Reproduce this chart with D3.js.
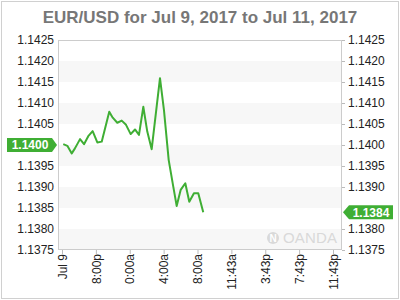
<!DOCTYPE html>
<html>
<head>
<meta charset="utf-8">
<script src="https://cdn.jsdelivr.net/npm/d3@7"></script>
<style>
  body { margin: 0; background: #fff; }
  svg { display: block; font-family: "Liberation Sans", Arial, sans-serif; }
</style>
</head>
<body>
<svg id="chart" width="400" height="300"></svg>
<script>
// hours after the "Jul 9" tick, and EUR/USD rate
const hours = [0.15, 0.63, 1.15, 1.53, 2.13, 2.6, 3.1, 3.62, 4.17, 4.69, 5.58, 5.99,
  6.53, 7.05, 7.56, 8.11, 8.62, 9.09, 9.6, 10.07, 10.59, 11.57, 12.04, 12.6,
  13.14, 13.54, 14.01, 14.56, 15.03, 15.58, 16.09, 16.68];
const rates = [1.14002, 1.13998, 1.1398, 1.13992, 1.14014, 1.14002, 1.14021, 1.14033,
  1.14006, 1.14008, 1.14079, 1.14065, 1.14053, 1.14058, 1.14048, 1.14026,
  1.14037, 1.14024, 1.14091, 1.14032, 1.1399, 1.14159, 1.14083, 1.13964,
  1.13901, 1.13855, 1.13893, 1.13909, 1.13865, 1.13885, 1.13885, 1.1384];
const xTicks = [0, 4, 8, 12, 16, 20, 24, 28, 32];
const xTickLabels = ['Jul 9', '8:00p', '0:00a', '4:00a', '8:00a', '11:43a', '3:43p', '7:43p', '11:43p'];
const yTicks = [1.1375, 1.138, 1.1385, 1.139, 1.1395, 1.14, 1.1405, 1.141, 1.1415, 1.142, 1.1425];
const openRate = 1.14;
const lastRate = 1.1384;

const green = '#3fae34';
const plotLeft = 58;
const plotRight = 342;
const plotTop = 40;
const plotBottom = 250;

const svg = d3.select('#chart');

svg.append('rect')
  .attr('x', 1.5).attr('y', 1.5)
  .attr('width', 397).attr('height', 297)
  .attr('fill', 'none')
  .attr('stroke', '#d0d0d0');

svg.append('text')
  .attr('x', 200).attr('y', 23)
  .attr('text-anchor', 'middle')
  .attr('font-size', 17)
  .attr('font-weight', 'bold')
  .attr('fill', '#777')
  .text('EUR/USD for Jul 9, 2017 to Jul 11, 2017');

const x = d3.scaleLinear().domain([0, 32]).range([62, 333]);
const y = d3.scaleLinear().domain([1.1375, 1.1425]).range([plotBottom, plotTop]);

// alternating bands
const bands = yTicks.slice(0, -1).filter((d, i) => i % 2 === 0);
svg.append('g')
  .selectAll('rect')
  .data(bands)
  .enter()
  .append('rect')
  .attr('x', plotLeft)
  .attr('width', plotRight - plotLeft)
  .attr('y', d => y(d + 0.0005))
  .attr('height', d => y(d) - y(d + 0.0005))
  .attr('fill', '#f7f7f7');

// watermark
const wm = svg.append('g').attr('fill', '#d9d9d9');
wm.append('circle').attr('cx', 273).attr('cy', 238).attr('r', 6);
wm.append('text')
  .attr('x', 273).attr('y', 242)
  .attr('text-anchor', 'middle')
  .attr('font-size', 10)
  .attr('font-weight', 'bold')
  .attr('fill', '#fff')
  .text('N');
wm.append('text')
  .attr('x', 283).attr('y', 243)
  .attr('font-size', 15)
  .attr('textLength', 54)
  .text('OANDA');

// frame
svg.append('rect')
  .attr('x', plotLeft + 0.5).attr('y', plotTop + 0.5)
  .attr('width', plotRight - plotLeft - 1).attr('height', plotBottom - plotTop - 1)
  .attr('fill', 'none')
  .attr('stroke', '#ccc');

const fmt = d3.format('.4f');

function styleAxis(g) {
  g.select('.domain').remove();
  g.selectAll('.tick line').attr('stroke', '#bbb');
  g.selectAll('.tick text')
    .attr('fill', '#222')
    .attr('font-size', 12)
    .attr('font-family', '"Liberation Sans", Arial, sans-serif');
}

// the price flags take the place of the tick they sit on
svg.append('g')
  .attr('transform', `translate(${plotLeft},0)`)
  .call(d3.axisLeft(y).tickValues(yTicks.filter(d => d !== 1.14))
    .tickFormat(fmt).tickSize(0).tickPadding(4))
  .call(styleAxis);

svg.append('g')
  .attr('transform', `translate(${plotRight},0)`)
  .call(d3.axisRight(y).tickValues(yTicks.filter(d => d !== 1.1385))
    .tickFormat(fmt).tickSize(3).tickPadding(3))
  .call(styleAxis);

svg.append('g')
  .attr('transform', `translate(0,${plotBottom})`)
  .call(d3.axisBottom(x).tickValues(xTicks).tickFormat((d, i) => xTickLabels[i]).tickSize(4))
  .call(styleAxis)
  .selectAll('.tick text')
  .attr('transform', 'rotate(-90)')
  .attr('text-anchor', 'end')
  .attr('x', -4)
  .attr('y', 0)
  .attr('dy', '0.35em');

// price line
const points = hours.map((h, i) => [h, rates[i]]);
svg.append('path')
  .datum(points)
  .attr('fill', 'none')
  .attr('stroke', green)
  .attr('stroke-width', 2)
  .attr('stroke-linejoin', 'round')
  .attr('d', d3.line().x(d => x(d[0])).y(d => y(d[1])));

// price flags
const yo = y(openRate);
svg.append('path')
  .attr('d', `M7,${yo - 7}H52L57,${yo}L52,${yo + 7}H7Z`)
  .attr('fill', green);
svg.append('text')
  .attr('x', 30).attr('y', yo)
  .attr('dy', '0.36em')
  .attr('text-anchor', 'middle')
  .attr('font-size', 12)
  .attr('font-weight', 'bold')
  .attr('fill', '#fff')
  .text(fmt(openRate));

const yl = y(lastRate);
svg.append('path')
  .attr('d', `M343,${yl}L349,${yl - 7}H393V${yl + 7}H349Z`)
  .attr('fill', green);
svg.append('text')
  .attr('x', 371).attr('y', yl)
  .attr('dy', '0.36em')
  .attr('text-anchor', 'middle')
  .attr('font-size', 12)
  .attr('font-weight', 'bold')
  .attr('fill', '#fff')
  .text(fmt(lastRate));
</script>
</body>
</html>
